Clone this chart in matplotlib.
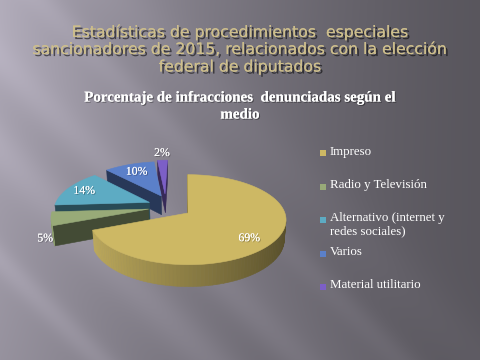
import numpy as np
import matplotlib
matplotlib.use("Agg")
import matplotlib.pyplot as plt
from matplotlib.patches import Polygon, Rectangle
import matplotlib.patheffects as pe

# Datos
categorias = ["Impreso", "Radio y Televisión",
              "Alternativo (internet y\nredes sociales)", "Varios",
              "Material utilitario"]
porcentajes = [69, 5, 14, 10, 2]
etiquetas = ["69%", "5%", "14%", "10%", "2%"]
colores = ["#cdb864", "#98aa78", "#5dabc3", "#5b80c9", "#7c5fc7"]

titulo = ["Estadísticas de procedimientos  especiales",
          "sancionadores de 2015, relacionados con la elección",
          "federal de diputados"]
subtitulo = ["Porcentaje de infracciones  denunciadas según el", "medio"]

# estilo del pastel 3D
despl = [(0.0, 0.0), (-0.41, 0.09), (-0.41, 0.25), (-0.29, 0.41), (-0.25, 0.46)]
lab_r = [0.72, 1.08, 0.8, 0.75, 1.25]
lab_z = [-0.3, -0.95, 0.0, 0.0, 0.0]   # en unidades del grosor

ELEV = np.radians(27)
DIST = 6.0
CAMX = -0.03
H = 0.23
CX, CY, S = 185, 213, 97

cam = np.array([CAMX, -DIST * np.cos(ELEV), DIST * np.sin(ELEV)])
fwd = np.array([0, np.cos(ELEV), -np.sin(ELEV)])
up = np.array([0, np.sin(ELEV), np.cos(ELEV)])
right = np.array([1.0, 0, 0])


def proj(p):
    r = np.asarray(p, dtype=float) - cam
    d = r @ fwd
    return (CX + S * DIST * (r @ right) / d, CY - S * DIST * (r @ up) / d)


def depth(p):
    return (np.asarray(p, dtype=float) - cam) @ fwd


def shade(col, f):
    c = np.array(matplotlib.colors.to_rgb(col))
    return tuple(np.clip(c * f, 0, 1))


fig = plt.figure(figsize=(4.8, 3.6), dpi=100)
ax = fig.add_axes([0, 0, 1, 1])
ax.set_xlim(0, 480)
ax.set_ylim(360, 0)
ax.axis("off")

# fondo degradado con rayas diagonales
yy, xx = np.mgrid[0:360, 0:480]
v = 0.35 + 0.32 * (1 - xx / 480) ** 1.4 * (1 - 0.25 * yy / 360)
u = xx - yy
for u0, w, a in [(-260, 18, 0.05), (-150, 30, 0.05), (-60, 25, 0.04),
                 (40, 20, 0.035), (-20, 60, 0.03), (120, 40, 0.02)]:
    v = v + a * np.exp(-((u - u0) / w) ** 2)
bg = np.dstack([v * 1.0, v * 0.97, v * 1.05])
ax.imshow(np.clip(bg, 0, 1), extent=(0, 480, 360, 0), zorder=0, aspect="auto")

# construir las porciones
tot = sum(porcentajes)
cum = 0
porciones = []
for i, val in enumerate(porcentajes):
    a_ini = 90 - cum / tot * 360
    cum += val
    a_fin = 90 - cum / tot * 360
    t1, t2 = np.radians(a_fin), np.radians(a_ini)
    ox, oy = despl[i]
    porciones.append((i, t1, t2, ox, oy))


def centro(s):
    i, t1, t2, ox, oy = s
    tm = (t1 + t2) / 2
    return [ox + 0.5 * np.cos(tm), oy + 0.5 * np.sin(tm), 0]


for i, t1, t2, ox, oy in sorted(porciones, key=lambda s: -depth(centro(s))):
    col = colores[i]
    n = max(3, int(np.degrees(t2 - t1) / 2))
    ts = np.linspace(t1, t2, n)
    caras = []
    # pared exterior
    for ta, tb in zip(ts[:-1], ts[1:]):
        tm = (ta + tb) / 2
        pts = [(ox + np.cos(ta), oy + np.sin(ta), 0), (ox + np.cos(tb), oy + np.sin(tb), 0),
               (ox + np.cos(tb), oy + np.sin(tb), -H), (ox + np.cos(ta), oy + np.sin(ta), -H)]
        mid = np.mean(pts, axis=0)
        nrm = np.array([np.cos(tm), np.sin(tm), 0])
        if nrm @ (cam - mid) > 0:
            caras.append((depth(mid), pts, shade(col, 0.68 - 0.26 * np.cos(tm))))
    # paredes radiales
    for t, nrm in [(t1, np.array([np.sin(t1), -np.cos(t1), 0])),
                   (t2, np.array([-np.sin(t2), np.cos(t2), 0]))]:
        pts = [(ox, oy, 0), (ox + np.cos(t), oy + np.sin(t), 0),
               (ox + np.cos(t), oy + np.sin(t), -H), (ox, oy, -H)]
        mid = np.mean(pts, axis=0)
        if nrm @ (cam - mid) > 0:
            caras.append((depth(mid), pts, shade(col, 0.44)))
    caras.sort(key=lambda c: -c[0])
    for _, pts, fc in caras:
        ax.add_patch(Polygon([proj(p) for p in pts], closed=True, facecolor=fc,
                             edgecolor=fc, lw=0.4, zorder=2))
    top = [(ox, oy, 0)] + [(ox + np.cos(t), oy + np.sin(t), 0) for t in ts]
    ax.add_patch(Polygon([proj(p) for p in top], closed=True, facecolor=col,
                         edgecolor=col, lw=0.4, zorder=2))

# etiquetas de datos
for i, t1, t2, ox, oy in porciones:
    tm = (t1 + t2) / 2
    x, y = proj((ox + lab_r[i] * np.cos(tm), oy + lab_r[i] * np.sin(tm), lab_z[i] * H))
    ax.text(x, y, etiquetas[i], color="white", fontsize=8.5, family="Liberation Serif",
            ha="center", va="center", zorder=5,
            path_effects=[pe.withSimplePatchShadow(offset=(0.7, -0.7), shadow_rgbFace="k", alpha=0.3),
                          pe.Normal()])

# titulo principal
for k, linea in enumerate(titulo):
    ax.text(240, 32 + k * 17.5, linea, color="#cdbe8c", fontsize=11.3, family="DejaVu Sans",
            ha="center", va="center", zorder=5,
            path_effects=[pe.withSimplePatchShadow(offset=(1.5, -1.5), shadow_rgbFace="k", alpha=0.55),
                          pe.Normal()])

for k, linea in enumerate(subtitulo):
    ax.text(240, 98 + k * 17, linea, color="white", fontsize=10.8, family="Liberation Serif",
            fontweight="bold", ha="center", va="center", zorder=5,
            path_effects=[pe.withSimplePatchShadow(offset=(0.8, -0.8), shadow_rgbFace="k", alpha=0.4),
                          pe.Normal()])

# leyenda
for i, cat in enumerate(categorias):
    yl = 153 + i * 33.5
    ax.add_patch(Rectangle((320, yl - 3), 6, 6, facecolor=colores[i], edgecolor="none", zorder=5))
    ax.text(330, yl - 7.5, cat, color="white", fontsize=9.3, family="Liberation Serif",
            ha="left", va="top", linespacing=1.1, zorder=5)

fig.savefig("out.png", dpi=100)
